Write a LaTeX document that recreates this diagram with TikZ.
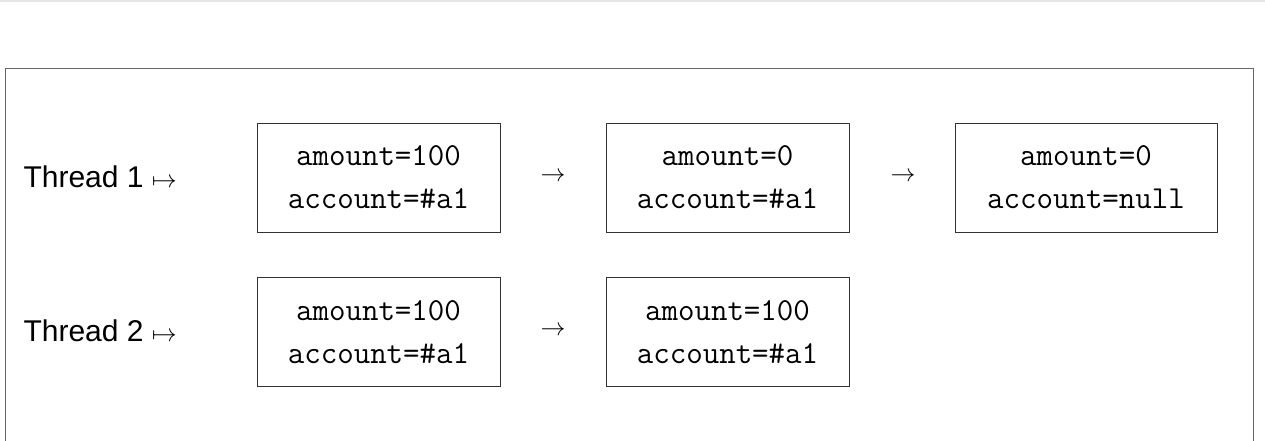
\documentclass[tikz,border=0pt]{standalone}
\usepackage{fontspec}
\setmainfont{Liberation Sans}
\begin{document}
\begin{tikzpicture}[x=1pt,y=-1pt,
  st/.style={draw=black!80,line width=0.8pt,minimum height=109pt,align=center,inner sep=0pt,font=\ttfamily\fontsize{32}{43}\selectfont},
  lab/.style={anchor=west,font=\fontsize{30}{36}\selectfont},
  arr/.style={font=\fontsize{30}{36}\selectfont}]
\useasboundingbox (0,0) rectangle (1265,440);
\draw[black!10,line width=2pt] (0,1) -- (1265,1);
\draw[black!60,line width=1pt] (5,460) -- (5,68) -- (1253,68) -- (1253,460);
\node[lab] (t1) at (20,177) {Thread 1 $\mapsto$};
\node[lab] (t2) at (20,331) {Thread 2 $\mapsto$};
\node[st,minimum width=243pt] (a1) at (378.5,177.5) {amount=100\\account=\#a1};
\node[st,minimum width=243pt] (a2) at (727.5,177.5) {amount=0\\account=\#a1};
\node[st,minimum width=262pt] (a3) at (1086,177.5) {amount=0\\account=null};
\node[st,minimum width=243pt] (b1) at (378.5,332) {amount=100\\account=\#a1};
\node[st,minimum width=243pt] (b2) at (727.5,332) {amount=100\\account=\#a1};
\node[arr] (r1) at (553,177) {$\rightarrow$};
\node[arr] (r2) at (903,177) {$\rightarrow$};
\node[arr] (r3) at (553,331) {$\rightarrow$};
\end{tikzpicture}
\end{document}
